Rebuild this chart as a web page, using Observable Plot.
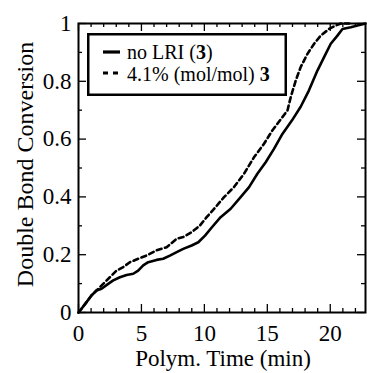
<!DOCTYPE html>
<html>
<head>
<meta charset="utf-8">
<script src="https://cdn.jsdelivr.net/npm/d3@7"></script>
<script src="https://cdn.jsdelivr.net/npm/@observablehq/plot@0.6"></script>
<style>
  html, body { margin: 0; padding: 0; background: #fff; }
  #wrap { position: relative; width: 367px; height: 373px; font-family: 'Liberation Serif'; }
  #wrap svg, #wrap svg text, #wrap svg tspan { font-family: 'Liberation Serif' !important; }
  #legend { position: absolute; left: 0; top: 0; }
</style>
</head>
<body>
<div id="wrap"></div>
<script>
// ---- data ----
const timeNoLRI = [0, 0.24, 0.64, 1.03, 1.43, 1.83, 2.36, 2.76, 3.29, 3.82, 4.35, 4.74, 5.14, 5.54, 6.2, 6.73, 7.26, 7.8, 8.32, 8.99, 9.52, 10.05, 10.6, 11.29, 12.09, 12.88, 13.55, 14.21, 14.87, 15.53, 16.2, 16.95, 17.65, 18.3, 18.98, 19.5, 20.04, 20.57, 20.97, 21.63, 22.16, 22.8];
const convNoLRI = [0, 0.013, 0.036, 0.059, 0.076, 0.082, 0.099, 0.111, 0.122, 0.130, 0.134, 0.145, 0.163, 0.174, 0.182, 0.186, 0.197, 0.209, 0.220, 0.232, 0.243, 0.266, 0.295, 0.330, 0.359, 0.399, 0.434, 0.480, 0.520, 0.566, 0.618, 0.664, 0.712, 0.768, 0.837, 0.883, 0.930, 0.958, 0.981, 0.987, 0.993, 1.0];

const timeLRI = [0, 0.24, 0.64, 1.03, 1.43, 1.96, 2.49, 3.02, 3.55, 4.08, 4.74, 5.4, 6.2, 7.0, 7.8, 8.32, 8.99, 9.65, 10.18, 10.7, 11.56, 12.35, 13.15, 13.94, 14.74, 15.4, 16.2, 16.6, 16.86, 17.26, 17.65, 18.19, 18.72, 19.24, 19.9, 20.44, 20.84, 21.5];
const convLRI = [0, 0.013, 0.036, 0.059, 0.076, 0.099, 0.122, 0.145, 0.157, 0.174, 0.186, 0.197, 0.215, 0.226, 0.255, 0.261, 0.278, 0.301, 0.330, 0.355, 0.399, 0.434, 0.480, 0.537, 0.584, 0.630, 0.676, 0.699, 0.745, 0.803, 0.849, 0.895, 0.930, 0.958, 0.981, 0.993, 1.0, 1.0];

const xMajorTicks = [0, 5, 10, 15, 20];
const xMinorTicks = [1, 2, 3, 4, 6, 7, 8, 9, 11, 12, 13, 14, 16, 17, 18, 19, 21, 22];
const yMajorTicks = [0, 0.2, 0.4, 0.6, 0.8, 1];
const yTickLabels = ["0", "0.2", "0.4", "0.6", "0.8", "1"];
const yMinorTicks = [0.1, 0.3, 0.5, 0.7, 0.9];

const xTitle = "Polym. Time (min)";
const yTitle = "Double Bond Conversion";
const legendItems = [
  {parts: [["no LRI (", "normal"], ["3", "bold"], [")", "normal"]], dash: null},
  {parts: [["4.1% (mol/mol) ", "normal"], ["3", "bold"]], dash: "5,5"}
];

// ---- build ----
const FONT = "Liberation Serif";
const W = 367, H = 373;
const mL = 78, mR = 2, mT = 23, mB = 61;
const fw = W - mL - mR, fh = H - mT - mB;

const noLRI = timeNoLRI.map((t, i) => ({t, c: convNoLRI[i]}));
const lri = timeLRI.map((t, i) => ({t, c: convLRI[i]}));

const major = 8, minor = 4;
const tk = {stroke: "black", strokeWidth: 1.3};

const chart = Plot.plot({
  width: W, height: H,
  marginLeft: mL, marginRight: mR, marginTop: mT, marginBottom: mB,
  style: {fontFamily: FONT, background: "white", color: "black"},
  x: {domain: [0, 22.8]},
  y: {domain: [0, 1]},
  marks: [
    // bottom / top ticks
    Plot.ruleX(xMajorTicks, {x: d => d, insetTop: fh - major, ...tk}),
    Plot.ruleX(xMinorTicks, {x: d => d, insetTop: fh - minor, ...tk}),
    Plot.ruleX(xMajorTicks, {x: d => d, insetBottom: fh - major, ...tk}),
    Plot.ruleX(xMinorTicks, {x: d => d, insetBottom: fh - minor, ...tk}),
    // left / right ticks
    Plot.ruleY(yMajorTicks, {y: d => d, insetRight: fw - major, ...tk}),
    Plot.ruleY(yMinorTicks, {y: d => d, insetRight: fw - minor, ...tk}),
    Plot.ruleY(yMajorTicks, {y: d => d, insetLeft: fw - major, ...tk}),
    Plot.ruleY(yMinorTicks, {y: d => d, insetLeft: fw - minor, ...tk}),
    // tick labels
    Plot.axisX({ticks: xMajorTicks, tickSize: 0, tickPadding: 12, fontSize: 23, fontFamily: FONT, tickFormat: d => String(d), label: null}),
    Plot.axisY({ticks: yMajorTicks, tickSize: 0, tickPadding: 7, fontSize: 23, fontFamily: FONT, tickFormat: (d, i) => yTickLabels[i], label: null}),
    // curves
    Plot.line(noLRI, {x: "t", y: "c", stroke: "black", strokeWidth: 2.6}),
    Plot.line(lri, {x: "t", y: "c", stroke: "black", strokeWidth: 2.6, strokeDasharray: "5,3.5"}),
    Plot.frame({stroke: "black", strokeWidth: 2}),
    // axis titles
    Plot.text([xTitle], {text: d => d, frameAnchor: "bottom", textAnchor: "middle", dy: 53, dx: 1, lineAnchor: "bottom", fontSize: 23, fontFamily: FONT, fill: "black"}),
    Plot.text([yTitle], {text: d => d, frameAnchor: "left", textAnchor: "middle", dx: -46, dy: -3.5, rotate: -90, lineAnchor: "bottom", fontSize: 24, fontFamily: FONT, fill: "black"})
  ]
});

const wrap = document.getElementById("wrap");
wrap.appendChild(chart);

// legend overlay
const leg = d3.select(wrap).append("svg")
  .attr("id", "legend")
  .attr("width", W).attr("height", H)
  .style("pointer-events", "none");

const bx = 87, by = 33, bw = 200, bh = 63;
leg.append("rect").attr("x", bx + 1.25).attr("y", by + 1.25).attr("width", bw - 2.5).attr("height", bh - 2.5)
  .attr("fill", "white").attr("stroke", "black").attr("stroke-width", 2.5);

const rows = [52, 73];
const baselines = [59, 81];
legendItems.forEach((item, i) => {
  const ln = leg.append("line").attr("x1", 103).attr("x2", item.dash ? 118 : 120)
    .attr("y1", rows[i]).attr("y2", rows[i])
    .attr("stroke", "black").attr("stroke-width", 3.2);
  if (item.dash) ln.attr("stroke-dasharray", item.dash);
  const tx = leg.append("text").attr("x", 127).attr("y", baselines[i])
    .attr("font-family", FONT)
    .attr("font-size", 20).attr("fill", "black");
  item.parts.forEach(([s, w]) => tx.append("tspan").attr("font-weight", w).text(s));
});
</script>
</body>
</html>
